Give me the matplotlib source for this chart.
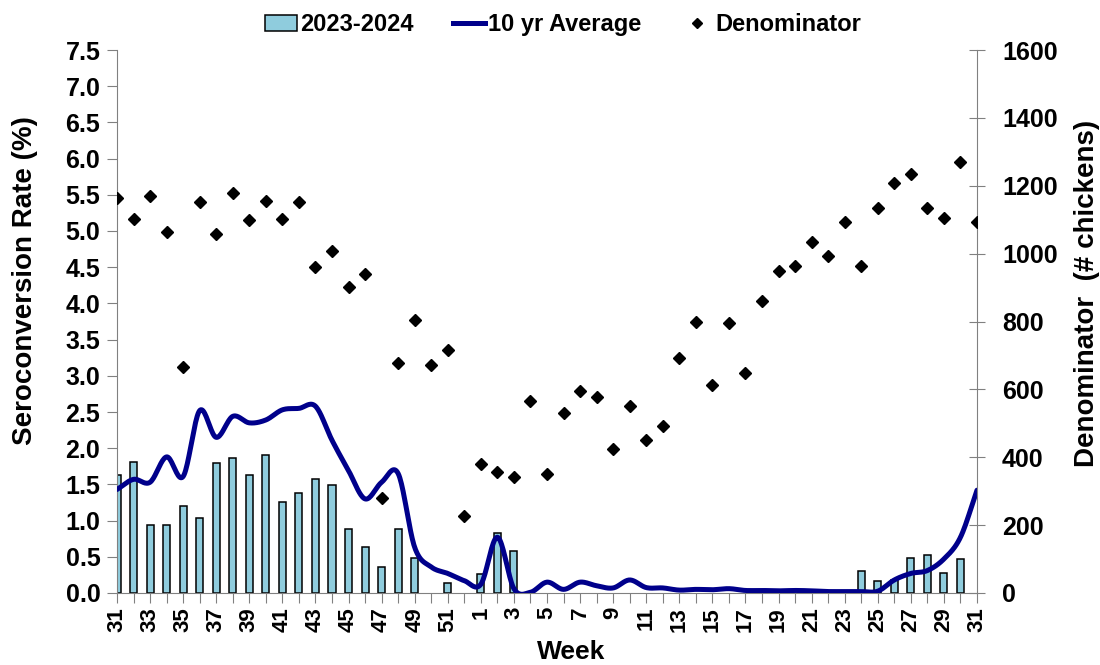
import numpy as np
import matplotlib
matplotlib.use("Agg")
import matplotlib.pyplot as plt
from matplotlib.lines import Line2D
from matplotlib.patches import Patch

weeks = list(range(31, 53)) + list(range(1, 32))

rate_2023_2024 = [1.63, 1.81, 0.94, 0.94, 1.20, 1.04, 1.79, 1.87, 1.63, 1.90,
                  1.26, 1.38, 1.57, 1.49, 0.88, 0.64, 0.36, 0.88, 0.49, 0.0,
                  0.14, 0.0,
                  0.26, 0.83, 0.58, 0.0, 0.0, 0.0, 0.0, 0.0, 0.0, 0.0,
                  0.0, 0.0, 0.0, 0.0, 0.0, 0.0, 0.0, 0.0, 0.0, 0.0,
                  0.0, 0.0, 0.0, 0.31, 0.17, 0.18, 0.48, 0.52, 0.27, 0.47,
                  0.0]

ten_yr_avg = [1.43, 1.57, 1.53, 1.88, 1.61, 2.52, 2.15, 2.44, 2.35, 2.39,
              2.53, 2.55, 2.58, 2.11, 1.69, 1.30, 1.53, 1.65, 0.63, 0.36,
              0.27, 0.17,
              0.12, 0.77, 0.06, 0.01, 0.15, 0.05, 0.15, 0.10, 0.07, 0.18,
              0.075, 0.07, 0.04, 0.05, 0.045, 0.06, 0.035, 0.035, 0.03, 0.035,
              0.03, 0.02, 0.02, 0.02, 0.025, 0.18, 0.27, 0.31, 0.47, 0.77,
              1.42]

denominator = [1164, 1102, 1171, 1064, 666, 1152, 1059, 1178, 1100, 1155,
               1102, 1152, 960, 1007, 902, 940, 279, 678, 803, 671,
               717, 226,
               381, 357, 343, 567, 350, 531, 595, 577, 424, 551,
               450, 493, 693, 798, 614, 796, 648, 859, 950, 963,
               1033, 993, 1092, 963, 1135, 1209, 1234, 1135, 1104, 1269,
               1094]

left_ticks = [0.0, 0.5, 1.0, 1.5, 2.0, 2.5, 3.0, 3.5, 4.0, 4.5, 5.0, 5.5, 6.0, 6.5, 7.0, 7.5]
right_ticks = [0, 200, 400, 600, 800, 1000, 1200, 1400, 1600]


def catmull_rom(x, y, n=20):
    x = np.asarray(x, float)
    y = np.asarray(y, float)
    px = np.concatenate([[2 * x[0] - x[1]], x, [2 * x[-1] - x[-2]]])
    py = np.concatenate([[2 * y[0] - y[1]], y, [2 * y[-1] - y[-2]]])
    xs, ys = [], []
    t = np.linspace(0, 1, n, endpoint=False)
    for i in range(1, len(px) - 2):
        p0, p1, p2, p3 = py[i - 1], py[i], py[i + 1], py[i + 2]
        q0, q1, q2, q3 = px[i - 1], px[i], px[i + 1], px[i + 2]
        c1y = p1 + (p2 - p0) / 6
        c2y = p2 - (p3 - p1) / 6
        c1x = q1 + (q2 - q0) / 6
        c2x = q2 - (q3 - q1) / 6
        b = lambda a, c1, c2, d: ((1 - t) ** 3 * a + 3 * (1 - t) ** 2 * t * c1
                                  + 3 * (1 - t) * t ** 2 * c2 + t ** 3 * d)
        xs.append(b(q1, c1x, c2x, q2))
        ys.append(b(p1, c1y, c2y, p2))
    xs.append([x[-1]])
    ys.append([y[-1]])
    return np.concatenate(xs), np.concatenate(ys)


plt.rcParams['font.family'] = ['Liberation Sans', 'DejaVu Sans']
plt.rcParams['font.weight'] = 'bold'

fig = plt.figure(figsize=(11, 6.65), dpi=100)
ax = fig.add_axes([117 / 1100, 72 / 665, 860 / 1100, 543 / 665])
ax2 = ax.twinx()

pos = np.arange(len(weeks))
rates = np.array(rate_2023_2024)
nz = rates > 0
bar_color = '#8FCCDD'
line_color = '#00008B'

ax.bar(pos[nz], rates[nz], width=0.43, color=bar_color, edgecolor='black',
       linewidth=1.1, zorder=2)
sx, sy = catmull_rom(pos, ten_yr_avg)
ax.plot(sx, sy, color=line_color, linewidth=3.6, zorder=3, solid_capstyle='round')

ax2.plot(pos, denominator, linestyle='none', marker='D', markersize=6,
         color='black', zorder=4)

ax.set_xlim(0, len(weeks) - 1)
ax.set_ylim(0, 7.5)
ax2.set_ylim(0, 1600)

ax.set_yticks(left_ticks)
ax.set_yticklabels([f"{v:.1f}" for v in left_ticks], fontsize=18, fontweight='bold')
ax2.set_yticks(right_ticks)
ax2.set_yticklabels([str(v) for v in right_ticks], fontsize=18, fontweight='bold')

ax.set_xticks(pos)
ax.set_xticklabels([str(w) if i % 2 == 0 else '' for i, w in enumerate(weeks)],
                   rotation=90, fontsize=16, fontweight='bold')

spine_c = '#808080'
for a in (ax, ax2):
    for s in a.spines.values():
        s.set_color(spine_c)
    a.spines['top'].set_visible(False)
ax.spines['right'].set_visible(False)
ax2.spines['left'].set_visible(False)
ax2.spines['bottom'].set_visible(False)

ax.tick_params(axis='y', direction='out', length=7, color=spine_c, pad=5)
ax.tick_params(axis='x', direction='out', length=7, color=spine_c, pad=3)
ax2.tick_params(axis='y', direction='inout', length=12, color=spine_c, pad=12)

ax.set_ylabel('Seroconversion Rate (%)', fontsize=20, fontweight='bold')
ax.yaxis.label.set(va='center', ha='center')
ax.yaxis.set_label_coords(-0.107, 0.576)
ax2.set_ylabel('Denominator  (# chickens)', fontsize=20, fontweight='bold')
ax2.yaxis.label.set(va='center', ha='center')
ax2.yaxis.set_label_coords(1.128, 0.552)
ax.set_xlabel('Week', fontsize=19, fontweight='bold')
ax.xaxis.label.set(va='center', ha='center')
ax.xaxis.set_label_coords(0.528, -0.1087)

handles = [Patch(facecolor=bar_color, edgecolor='black', linewidth=1.1),
           Line2D([0], [0], color=line_color, linewidth=3.6),
           Line2D([0], [0], linestyle='none', marker='D', markersize=5, color='black')]
fig.legend(handles, ['2023-2024', '10 yr Average', 'Denominator'],
           loc='center', bbox_to_anchor=(0.512, 0.963), ncol=3, frameon=False,
           prop={'size': 17, 'weight': 'bold'}, handlelength=1.35, handletextpad=0.1,
           columnspacing=1.7)

fig.savefig('out.png', dpi=100)
